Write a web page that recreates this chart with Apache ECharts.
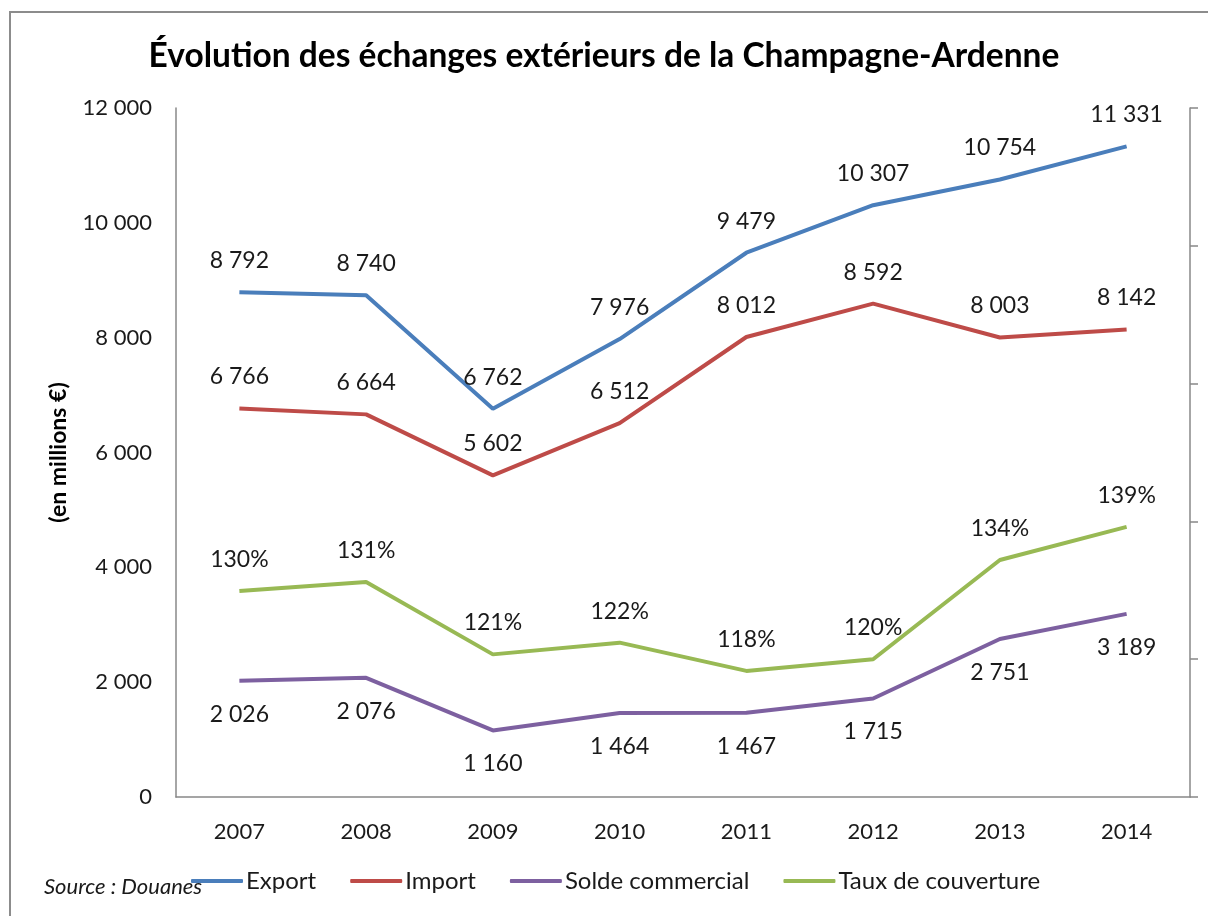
<!DOCTYPE html>
<html><head><meta charset="utf-8">
<script src="https://cdn.jsdelivr.net/npm/echarts@6/dist/echarts.min.js"></script>
<style>html,body{margin:0;padding:0;background:#fff}#c{width:1208px;height:916px}</style>
</head><body><div id="c"></div>
<script>
const years = ['2007','2008','2009','2010','2011','2012','2013','2014'];
const exportVals = [8792, 8740, 6762, 7976, 9479, 10307, 10754, 11331];
const importVals = [6766, 6664, 5602, 6512, 8012, 8592, 8003, 8142];
const soldeVals = [2026, 2076, 1160, 1464, 1467, 1715, 2751, 3189];
const tauxVals = [129.9, 131.2, 120.7, 122.4, 118.3, 120.0, 134.4, 139.2];
const leftTicks = [0, 2000, 4000, 6000, 8000, 10000, 12000];

const FONT = 'Lato, "Open Sans", sans-serif';
const fmt = v => String(Math.round(v)).replace(/\B(?=(\d{3})+(?!\d))/g, ' ');
const chart = echarts.init(document.getElementById('c'));
const lbl = (pos, f, d) => ({show: true, position: pos, distance: d, fontFamily: FONT, fontSize: 23, color: '#1a1a1a', formatter: p => f(p.value)});
const mk = (name, data, color, yi, pos, f, d) => ({
  name, type: 'line', data, yAxisIndex: yi, symbol: 'circle', symbolSize: 0, showSymbol: true, smooth: false,
  lineStyle: {color, width: 4}, itemStyle: {color}, label: lbl(pos, f, d), z: 3
});
chart.setOption({
  animation: false,
  title: {text: 'Évolution des échanges extérieurs de la Champagne-Ardenne', left: 'center', top: 34,
    textStyle: {fontFamily: FONT, fontSize: 33.5, fontWeight: 'bold', color: '#000'}},
  grid: {left: 176, right: 18, top: 108, bottom: 119},
  legend: {bottom: 18, left: 186, itemWidth: 52, itemHeight: 4, itemGap: 34,
    icon: 'roundRect',
    textStyle: {fontFamily: FONT, fontSize: 24, color: '#1a1a1a', padding: [0, 0, 0, -2]},
    data: ['Export', 'Import', 'Solde commercial', 'Taux de couverture']},
  xAxis: {type: 'category', data: years, boundaryGap: true,
    axisLine: {lineStyle: {color: '#888', width: 1.5}}, axisTick: {show: false},
    axisLabel: {fontFamily: FONT, fontSize: 22, color: '#1a1a1a', margin: 24}},
  yAxis: [
    {type: 'value', min: leftTicks[0], max: leftTicks[leftTicks.length-1], interval: 2000,
     name: '(en millions €)', nameLocation: 'middle', nameGap: 106, nameRotate: 90,
     nameTextStyle: {fontFamily: FONT, fontSize: 23, fontWeight: 'bold', color: '#000'},
     axisLine: {show: true, lineStyle: {color: '#888', width: 1.5}}, axisTick: {show: false},
     splitLine: {show: false},
     axisLabel: {fontFamily: FONT, fontSize: 22, color: '#1a1a1a', margin: 24, formatter: fmt}},
    {type: 'value', min: 100, max: 200, interval: 20, position: 'right',
     axisLine: {show: true, lineStyle: {color: '#888', width: 1.5}},
     axisTick: {show: true, inside: false, length: 8, lineStyle: {color: '#888', width: 1.5}},
     axisLabel: {show: false}, splitLine: {show: false}}
  ],
  graphic: [
    {type: 'rect', shape: {x: 10, y: 12, width: 1220, height: 940}, style: {fill: 'none', stroke: '#8c8c8c', lineWidth: 2}, silent: true},
    {type: 'text', left: 44, top: 876, style: {text: 'Source : Douanes', font: 'italic 22px ' + FONT, fill: '#1a1a1a'}}
  ],
  series: [
    mk('Export', exportVals, '#4A7EBB', 0, 'top', fmt, 20),
    mk('Import', importVals, '#BE4B48', 0, 'top', fmt, 20),
    mk('Solde commercial', soldeVals, '#7D60A0', 0, 'bottom', fmt, 22),
    mk('Taux de couverture', tauxVals, '#98B954', 1, 'top', v => Math.round(v) + '%', 20)
  ]
});
</script></body></html>
